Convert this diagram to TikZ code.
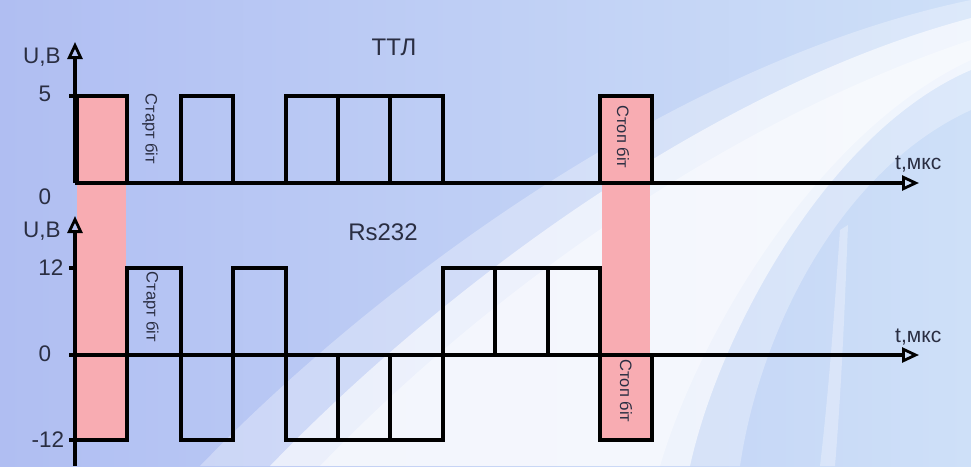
\documentclass[tikz,border=0pt]{standalone}
\usepackage{fontspec}
\setmainfont{Liberation Sans}
\usetikzlibrary{arrows.meta}
\definecolor{bgL}{RGB}{176,190,242}
\definecolor{bgR}{RGB}{206,224,248}
\definecolor{pinkc}{RGB}{248,172,178}
\definecolor{txt}{RGB}{42,46,66}
\tikzset{
  wave/.style={black, line width=3.2pt, line join=miter},
  axisline/.style={black, line width=3.2pt, -{Triangle[open, length=17pt, width=15pt, line width=2.8pt]}},
  ticklbl/.style={text=txt, font=\fontsize{22.5}{22.5}\selectfont, inner sep=0pt},
  title/.style={text=txt, font=\fontsize{24}{24}\selectfont, inner sep=0pt},
  unitlbl/.style={text=txt, font=\fontsize{21}{21}\selectfont, inner sep=0pt, anchor=west},
  bitlbl/.style={text=txt, font=\fontsize{16.5}{16.5}\selectfont, rotate=-90, inner sep=0pt},
  band/.style={fill=pinkc, draw=none}
}
\begin{document}
\begin{tikzpicture}[x=1pt, y=-1pt]
\useasboundingbox (0,0) rectangle (971,466);
% background
\shade[left color=bgL, right color=bgR] (0,0) rectangle (971,466);
\fill[white, opacity=0.3] (200,466) .. controls (380,280) and (680,60) .. (971,0) -- (971,110) .. controls (840,170) and (760,330) .. (740,466) -- cycle;
\fill[white, opacity=0.6] (270,466) .. controls (430,300) and (700,90) .. (971,18) -- (971,70) .. controls (830,130) and (720,330) .. (690,466) -- cycle;
\fill[white, opacity=0.4] (320,466) .. controls (460,320) and (700,130) .. (971,40) -- (971,60) .. controls (820,130) and (700,330) .. (660,466) -- cycle;
\fill[white, opacity=0.3] (820,466) .. controls (830,380) and (835,300) .. (840,230) -- (848,225) .. controls (845,300) and (842,380) .. (835,466) -- cycle;
% pink bands
\fill[band] (77,96) rectangle (126,440);
\fill[band] (602,96) rectangle (650,440);
% ---------- TTL ----------
\draw[wave] (77,96) rectangle (127,183);
\draw[wave] (181,96) rectangle (233,183);
\draw[wave] (286,96) rectangle (338,183);
\draw[wave] (338,96) rectangle (390,183);
\draw[wave] (390,96) rectangle (443,183);
\draw[wave] (600,96) rectangle (652,183);
\coordinate (ta0) at (75,183);
\coordinate (taT) at (75,42);
\coordinate (taX) at (919,183);
\draw[axisline] (ta0) -- (taT);
\draw[axisline] (ta0) -- (taX);
\draw[wave] (69,96) -- (75,96);
\node[ticklbl] (tUB) at (42,57) {U,B};
\node[ticklbl] (t5) at (45,94) {5};
\node[ticklbl] (t0) at (45,197) {0};
\node[title] (tTTL) at (394,47) {ТТЛ};
\node[unitlbl] (tT) at (895,164) {t,мкс};
\node[bitlbl] (tStart) at (150,129) {Старт біт};
\node[bitlbl] (tStop) at (623,137) {Стоп біт};
% ---------- RS232 ----------
\draw[wave] (75,355) rectangle (127,440);
\draw[wave] (127,268) rectangle (181,355);
\draw[wave] (181,355) rectangle (233,440);
\draw[wave] (233,268) rectangle (286,355);
\draw[wave] (286,355) rectangle (338,440);
\draw[wave] (338,355) rectangle (390,440);
\draw[wave] (390,355) rectangle (443,440);
\draw[wave] (443,268) rectangle (495,355);
\draw[wave] (495,268) rectangle (548,355);
\draw[wave] (548,268) rectangle (600,355);
\draw[wave] (600,355) rectangle (652,440);
\coordinate (ba0) at (75,466);
\coordinate (baT) at (75,216);
\coordinate (bz) at (75,355);
\coordinate (baX) at (919,355);
\draw[axisline] (ba0) -- (baT);
\draw[axisline] (bz) -- (baX);
\draw[wave] (69,268) -- (75,268);
\draw[wave] (69,355) -- (75,355);
\draw[wave] (69,440) -- (75,440);
\node[ticklbl] (bUB) at (42,231) {U,B};
\node[ticklbl] (b12) at (51,268) {12};
\node[ticklbl] (b0) at (45,354) {0};
\node[ticklbl] (bm12) at (48,440) {-12};
\node[title] (bRS) at (383,232) {Rs232};
\node[unitlbl] (bT) at (895,337) {t,мкс};
\node[bitlbl] (bStart) at (151,307) {Старт біт};
\node[bitlbl] (bStop) at (626,391) {Стоп біт};
\end{tikzpicture}
\end{document}
